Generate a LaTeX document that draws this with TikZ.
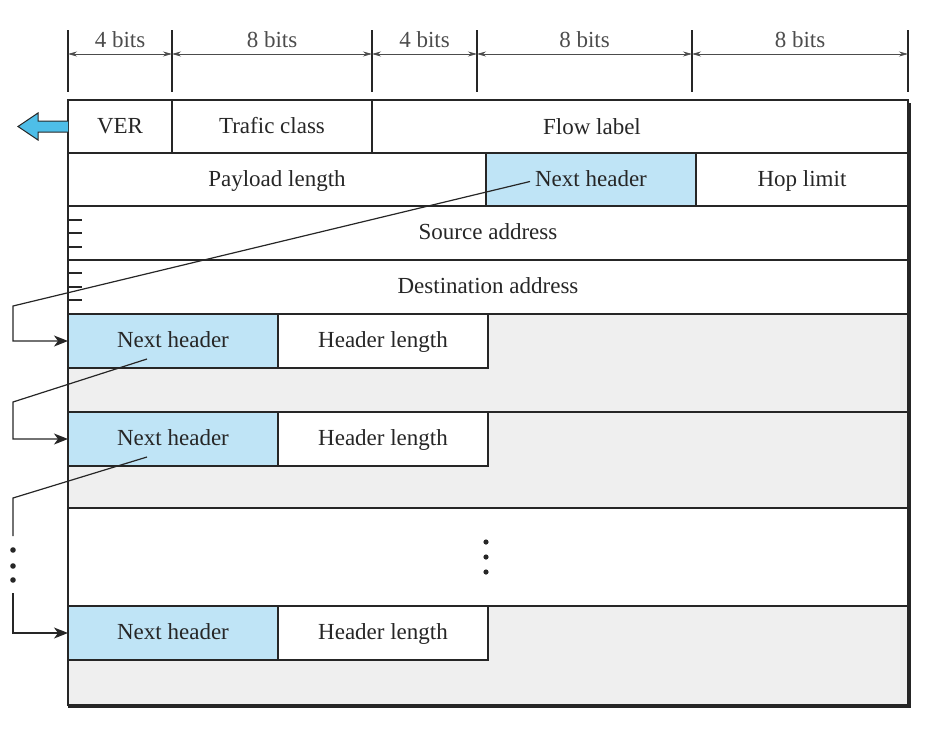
\documentclass[tikz,border=0pt]{standalone}
\usepackage{fontspec}
\setmainfont{Liberation Serif}
\usetikzlibrary{arrows.meta}
\definecolor{nhblue}{RGB}{191,228,246}
\definecolor{extgray}{RGB}{239,239,239}
\definecolor{arrowblue}{RGB}{78,190,232}
\tikzset{
  cell/.style={draw, rectangle, anchor=north west, inner sep=0pt, outer sep=0pt, minimum height=53pt,
    text height=17pt, text depth=4pt},
  band/.style={cell, fill=extgray, minimum width=840pt},
  tick/.style={line width=1.1pt},
  dim/.style={{Stealth[length=9pt,width=5pt]}-{Stealth[length=9pt,width=5pt]}, line width=0.7pt, black!70},
  bits/.style={midway, above=5pt, inner sep=1pt}
}
\begin{document}
\begin{tikzpicture}[x=1pt, y=-1pt, >={Stealth[length=14pt,width=11pt,inset=4pt]},
    font=\fontsize{23}{27}\selectfont, line width=1.2pt, color=black!85]
  \useasboundingbox (0,0) rectangle (926,728);
  % field widths
  \foreach \x [count=\i] in {68,172,372,477,692,908}
    {\draw[tick] (\x,30) -- (\x,92); \coordinate (d\i) at (\x,54);}
  \draw[dim] (d1) -- node[bits] {4 bits} (d2);
  \draw[dim] (d2) -- node[bits] {8 bits} (d3);
  \draw[dim] (d3) -- node[bits] {4 bits} (d4);
  \draw[dim] (d4) -- node[bits] {8 bits} (d5);
  \draw[dim] (d5) -- node[bits] {8 bits} (d6);
  % base header
  \node[cell, minimum width=104pt] (ver) at (68,100) {VER};
  \node[cell, minimum width=200pt] (tc) at (172,100) {Trafic class};
  \node[cell, minimum width=536pt] (fl) at (372,100) {};
  \node at ([xshift=-48pt]fl.center) (fltext) {Flow label};
  \node[cell, minimum width=418pt] (pl) at (68,153) {Payload length};
  \node[cell, fill=nhblue, minimum width=210pt] (nh0) at (486,153) {Next header};
  \node[cell, minimum width=212pt] (hop) at (696,153) {Hop limit};
  \node[cell, minimum width=840pt, minimum height=54pt] (src) at (68,206) {Source address};
  \node[cell, minimum width=840pt, minimum height=54pt] (dst) at (68,260) {Destination address};
  \foreach \y in {220,233,247,273,287,300}
    \draw (68,\y) -- (82,\y);
  % extension headers
  \node[band, minimum height=98pt] (ext1) at (68,314) {};
  \node[band, minimum height=96pt] (ext2) at (68,412) {};
  \node[cell, minimum width=840pt, minimum height=98pt] (more) at (68,508) {};
  \node[band, minimum height=99pt] (ext3) at (68,606) {};
  \foreach \y [count=\i] in {314,412,606} {
    \node[cell, fill=nhblue, minimum width=210pt, minimum height=54pt] (nh\i) at (68,\y) {Next header};
    \node[cell, fill=white, minimum width=210pt, minimum height=54pt] (hl\i) at (278,\y) {Header length};
  }
  \foreach \y in {542,557,572}
    \fill (486,\y) circle (2.6pt);
  % frame
  \draw (68,100) rectangle (908,705);
  \draw[line width=4pt] (909,103) -- (909,705.5) -- (68,705.5);
  \draw[fill=arrowblue, line width=1pt] (68,121) -- (38,121) -- (38,113) -- (18,126.5)
    -- (38,140) -- (38,132) -- (68,132);
  % next header chain
  \draw[->] ([shift={(-61,2)}]nh0.center) -- (13,306) |- (nh1.west);
  \draw[->] ([shift={(-26,18)}]nh1.center) -- (13,402) |- (nh2.west);
  \draw ([shift={(-26,18)}]nh2.center) -- (13,498) -- (13,536);
  \foreach \y in {550,566,580}
    \fill (13,\y) circle (2.8pt);
  \draw[->] (13,593) |- (nh3.west);
\end{tikzpicture}
\end{document}
